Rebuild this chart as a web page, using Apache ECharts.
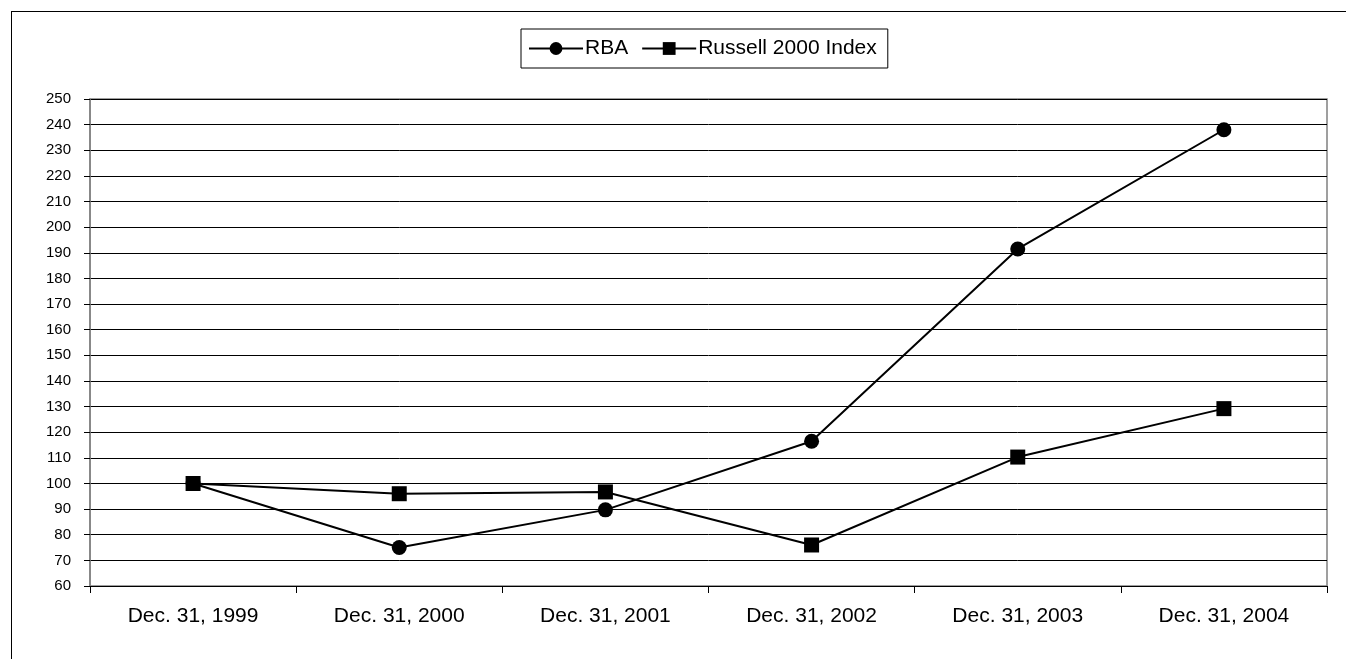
<!DOCTYPE html>
<html><head><meta charset="utf-8">
<script src="https://cdn.jsdelivr.net/npm/echarts@6/dist/echarts.min.js"></script>
<style>
html,body{margin:0;padding:0;background:#fff;}
#frame{position:absolute;left:11px;top:11px;width:1400px;height:700px;border-left:1.5px solid #000;border-top:1.5px solid #000;}
#c{position:absolute;left:0;top:0;width:1346px;height:659px;}
</style></head>
<body>
<div id="frame"></div>
<div id="c"></div>
<script>
const categories = ['Dec. 31, 1999','Dec. 31, 2000','Dec. 31, 2001','Dec. 31, 2002','Dec. 31, 2003','Dec. 31, 2004'];
const rbaValues = [100, 75, 89.7, 116.5, 191.5, 238];
const russellValues = [100, 96, 96.7, 76, 110.3, 129.2];
const seriesNames = ['RBA', 'Russell 2000 Index'];

const chart = echarts.init(document.getElementById('c'));
const font = 'Liberation Sans, Arial, sans-serif';
chart.setOption({
  backgroundColor: 'transparent',
  animation: false,
  legend: {
    top: 29, left: 521,
    data: seriesNames,
    itemWidth: 54, itemHeight: 16, itemGap: 13,
    borderColor: '#000', borderWidth: 1, padding: [9, 11, 9, 7],
    textStyle: {fontFamily: font, fontSize: 21, color: '#000', padding: [0, 0, 0, -3]}
  },
  grid: {left: 90, right: 19, top: 99, bottom: 73, show: true, borderColor: '#808080', borderWidth: 1.5},
  xAxis: {
    type: 'category', data: categories, boundaryGap: true,
    axisLine: {lineStyle: {color: '#000', width: 1}},
    axisTick: {show: true, length: 7, lineStyle: {color: '#000'}},
    axisLabel: {fontFamily: font, fontSize: 21, color: '#000', margin: 20}
  },
  yAxis: {
    type: 'value', min: 60, max: 250, interval: 10,
    axisLine: {show: true, lineStyle: {color: '#808080', width: 1.5}},
    axisTick: {show: true, length: 6, inside: false, lineStyle: {color: '#000'}},
    axisLabel: {fontFamily: font, fontSize: 15, color: '#000', margin: 19},
    splitLine: {lineStyle: {color: '#000', width: 1}}
  },
  series: [
    {name: seriesNames[0], type: 'line', data: rbaValues, symbol: 'circle', symbolSize: 15,
     lineStyle: {color: '#000', width: 2}, itemStyle: {color: '#000'}},
    {name: seriesNames[1], type: 'line', data: russellValues, symbol: 'rect', symbolSize: 15,
     lineStyle: {color: '#000', width: 2}, itemStyle: {color: '#000'}}
  ]
});
</script>
</body></html>
